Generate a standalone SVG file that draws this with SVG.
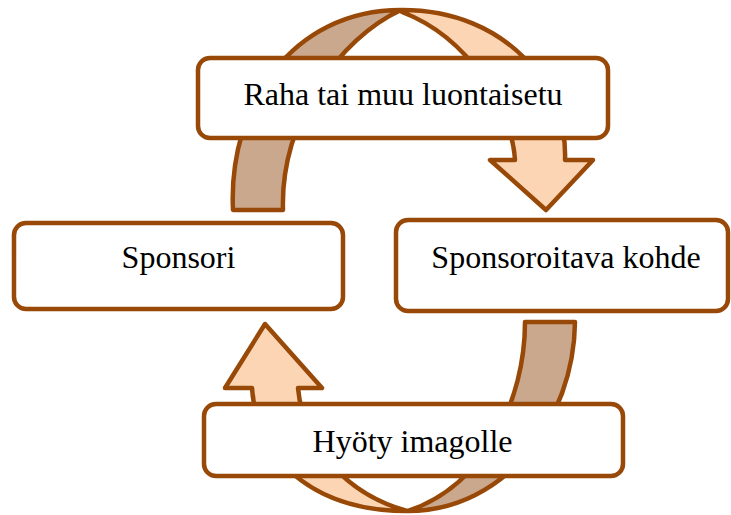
<svg xmlns="http://www.w3.org/2000/svg" width="731" height="515" viewBox="0 0 731 515">
  <style>
    .band { stroke: #984807; stroke-width: 4.5; stroke-linejoin: round; }
    .tan { fill: #CAA88E; }
    .peach { fill: #FCD5B4; }
    .box { fill: #FFFFFF; stroke: #984807; stroke-width: 4.5; }
    .label { font-family: "Liberation Serif", "Times New Roman", serif; font-size: 32px; fill: #000000; text-anchor: middle; }
  </style>

  <!-- circular arrows behind the boxes -->
  <g id="connectors">
    <!-- upper left band rising from Sponsori -->
    <path class="band tan" d="M233,210 C228,105 292,10 401,10 C340,38 280,120 283,210 Z"/>
    <!-- upper right band with arrowhead into Sponsoroitava kohde -->
    <path class="band peach" d="M402,10 C508,10 568,88 565,160 L593,160 L546,210 L490,160 L515,160 C512,110 470,38 402,12 Z"/>
    <!-- lower right band leaving Sponsoroitava kohde -->
    <path class="band tan" d="M575,322 C574,420 505,511 408,511 C485,485 525,400 525,322 Z"/>
    <!-- lower left band with arrowhead into Sponsori -->
    <path class="band peach" d="M407,511 C325,511 258,470 252,388 L225,388 L265,324 L322,388 L298,388 C304,450 350,495 407,511 Z"/>
  </g>

  <g id="node-raha">
    <rect class="box" x="198" y="58" width="410" height="80" rx="12"/>
    <text class="label" x="403" y="105">Raha tai muu luontaisetu</text>
  </g>

  <g id="node-sponsori">
    <rect class="box" x="14" y="223" width="329" height="86" rx="12"/>
    <text class="label" x="178.5" y="268">Sponsori</text>
  </g>

  <g id="node-kohde">
    <rect class="box" x="396" y="220" width="332" height="91" rx="12"/>
    <text class="label" x="566" y="268">Sponsoroitava kohde</text>
  </g>

  <g id="node-hyoty">
    <rect class="box" x="204" y="404" width="419" height="72" rx="12"/>
    <text class="label" x="412.5" y="452">Hyöty imagolle</text>
  </g>
</svg>
